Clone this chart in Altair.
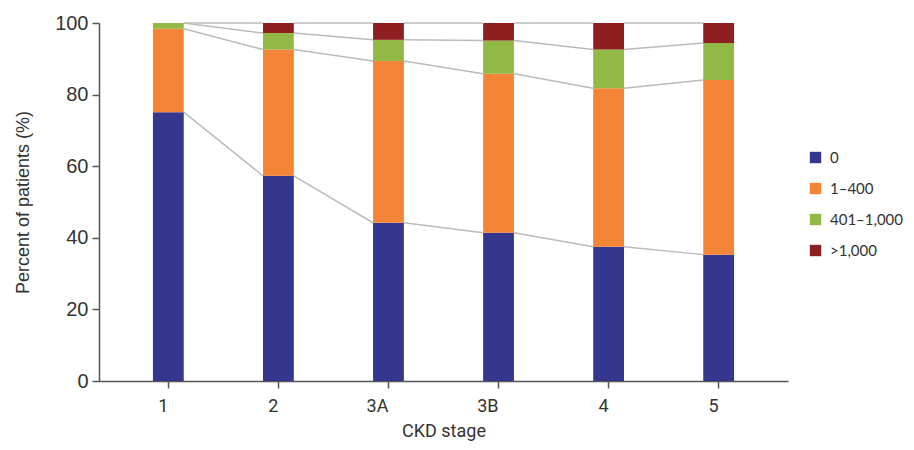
import altair as alt
import pandas as pd

stages = ["1", "2", "3A", "3B", "4", "5"]
groups = ["0", "1–400", "401–1,000", ">1,000"]
colors = ["#35378F", "#F48436", "#92B846", "#8F1E20"]

pct_0 = [75.1, 57.3, 44.2, 41.4, 37.5, 35.3]
pct_1_400 = [23.3, 35.3, 45.2, 44.4, 44.3, 48.8]
pct_401_1000 = [1.6, 4.6, 5.9, 9.3, 10.8, 10.3]
pct_gt_1000 = [0.0, 2.8, 4.7, 4.9, 7.4, 5.6]

series = [pct_0, pct_1_400, pct_401_1000, pct_gt_1000]

rows = []
for gi, (g, vals) in enumerate(zip(groups, series)):
    for s, v in zip(stages, vals):
        rows.append({"stage": s, "group": g, "rank": gi, "value": v})
bars_df = pd.DataFrame(rows)

# connector lines between cumulative boundaries of adjacent bars
conn = []
for i in range(len(stages) - 1):
    cum_a = 0.0
    cum_b = 0.0
    for vals in series:
        cum_a += vals[i]
        cum_b += vals[i + 1]
        conn.append({"s1": stages[i], "s2": stages[i + 1], "y1": cum_a, "y2": cum_b})
conn_df = pd.DataFrame(conn)

xscale = alt.Scale(domain=stages, paddingInner=0.72, paddingOuter=0.49)
yscale = alt.Scale(domain=[0, 100])

bars = alt.Chart(bars_df).mark_bar().encode(
    x=alt.X("stage:N", scale=xscale, sort=stages,
            axis=alt.Axis(title="CKD stage", labelAngle=0, labelFont="Roboto",
                          labelFontSize=18, labelColor="#333333", labelPadding=18,
                          titleFont="Roboto", titleFontSize=18, titleFontWeight="normal",
                          titleColor="#333333", titlePadding=7,
                          domainColor="#555555", domainWidth=1.5,
                          tickColor="#555555", tickWidth=1.5, tickSize=7)),
    y=alt.Y("value:Q", stack="zero", scale=yscale,
            axis=alt.Axis(title="Percent of patients (%)", values=[0, 20, 40, 60, 80, 100],
                          grid=False, labelFont="Liberation Sans", labelFontSize=20,
                          labelColor="#333333", labelPadding=4,
                          titleFont="Liberation Sans", titleFontSize=18,
                          titleFontWeight="normal", titleColor="#333333", titlePadding=22,
                          domainColor="#555555", domainWidth=1.5,
                          tickColor="#555555", tickWidth=1.5, tickSize=7)),
    color=alt.Color("group:N", scale=alt.Scale(domain=groups, range=colors),
                    legend=alt.Legend(title=None, orient="none", legendX=709, legendY=127,
                                      symbolType="square", symbolSize=130,
                                      symbolStrokeWidth=0, labelFont="Lato",
                                      labelFontSize=15, labelColor="#333333",
                                      labelOffset=7, rowPadding=15)),
    order=alt.Order("rank:Q", sort="ascending"),
)

lines = alt.Chart(conn_df).mark_rule(color="#BBBBBB", strokeWidth=1.5).encode(
    x=alt.X("s1:N", scale=xscale, sort=stages, bandPosition=1),
    x2=alt.X2("s2:N", bandPosition=0),
    y=alt.Y("y1:Q", scale=yscale),
    y2="y2:Q",
)

chart = alt.layer(lines, bars).properties(
    width=689, height=358,
    autosize=alt.AutoSizeParams(type="none"),
    padding={"left": 91, "top": 15, "right": 118, "bottom": 60},
).configure_view(stroke=None)

chart.save("out.html", embed_options={"renderer": "svg", "actions": False})
